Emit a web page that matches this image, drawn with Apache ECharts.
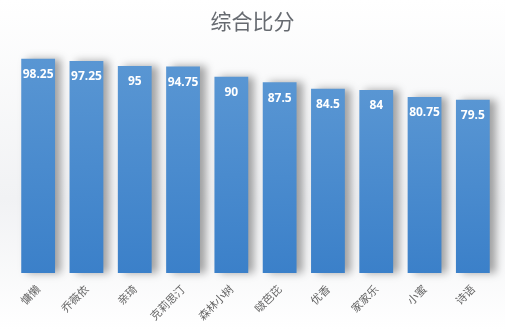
<!DOCTYPE html>
<html><head><meta charset="utf-8">
<script src="https://cdn.jsdelivr.net/npm/echarts@6/dist/echarts.min.js"></script>
<style>html,body{margin:0;padding:0;}#c{width:505px;height:330px;}</style>
</head><body><div id="c"></div>
<script>
const categories = ["慵懒", "乔薇依", "亲琦", "克莉思汀", "森林小树", "啵芭芘", "优香", "家家乐", "小蜜", "诗语"];
const scores = [98.25, 97.25, 95, 94.75, 90, 87.5, 84.5, 84, 80.75, 79.5];
const titleText = "综合比分";

const chart = echarts.init(document.getElementById('c'));
chart.setOption({
  backgroundColor: new echarts.graphic.LinearGradient(0, 0, 0, 1, [
    {offset: 0, color: '#ffffff'}, {offset: 0.6, color: '#f1f2f4'}, {offset: 1, color: '#ffffff'}
  ]),
  title: {text: titleText, left: 'center', top: 6,
    textStyle: {fontFamily: 'Noto Sans CJK SC', fontSize: 21, fontWeight: 'normal', color: '#666a70'}},
  grid: {left: 14, right: 8, top: 55, bottom: 57},
  xAxis: {type: 'category', data: categories,
    axisLine: {show: false}, axisTick: {show: false},
    axisLabel: {rotate: 45, interval: 0, margin: 14, fontSize: 11, color: '#666666', fontFamily: 'Noto Sans CJK SC'}},
  yAxis: {type: 'value', min: 0, max: 100, show: false, splitLine: {show: false}},
  series: [{type: 'bar', data: scores, barWidth: '70%',
    itemStyle: {
      color: new echarts.graphic.LinearGradient(0, 0, 0, 1, [
        {offset: 0, color: '#5996d3'}, {offset: 1, color: '#3b80c9'}
      ]),
      shadowColor: 'rgba(0,0,0,0.35)', shadowBlur: 8, shadowOffsetX: 6, shadowOffsetY: 0
    },
    label: {show: true, position: 'insideTop', distance: 10, color: '#ffffff', fontWeight: 'bold',
      fontSize: 12, fontFamily: 'Noto Sans'}
  }]
});
</script></body></html>
